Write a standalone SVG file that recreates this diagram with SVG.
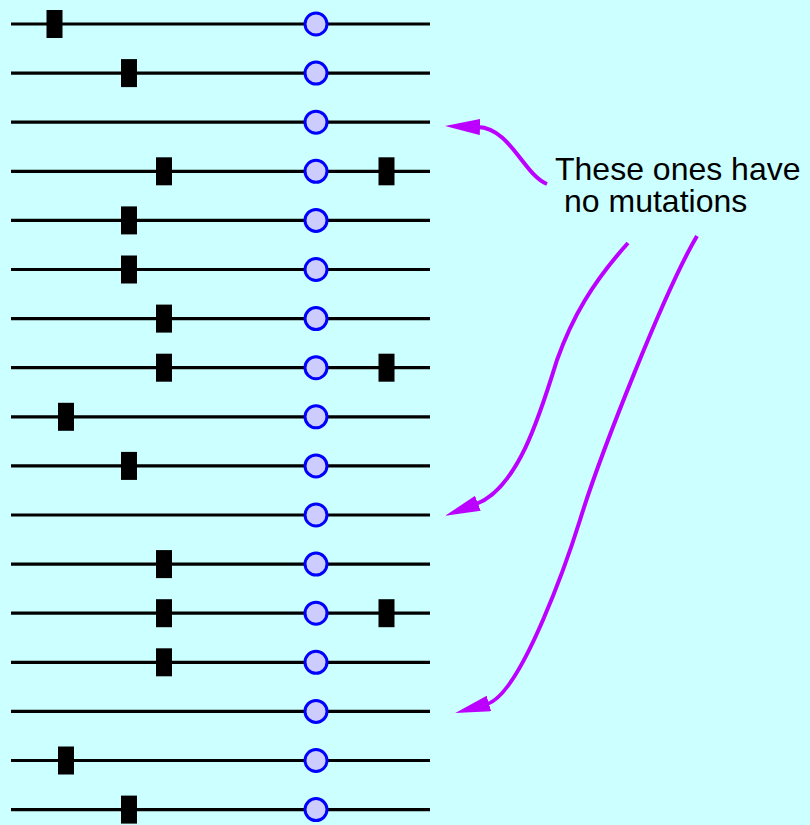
<svg xmlns="http://www.w3.org/2000/svg" width="810" height="825" viewBox="0 0 810 825">
<style>
.seq{stroke:#000;stroke-width:3.2;fill:none}
.mut{fill:#000}
.ctr{fill:#ccccff;stroke:#0000ff;stroke-width:3}
.arr{fill:none;stroke:#bb00ff;stroke-width:4;marker-end:url(#head)}
.lbl{font-family:"Liberation Sans",Arial,sans-serif;font-size:32px;fill:#000}
</style>
<defs>
<marker id="head" markerUnits="userSpaceOnUse" markerWidth="36" markerHeight="16" viewBox="0 0 36 16" refX="2" refY="8" orient="auto">
<path d="M0,0 L35,8 L0,16 z" fill="#bb00ff"/>
</marker>
</defs>
<rect x="0" y="0" width="810" height="825" fill="#ccffff"/>
<g id="row1" transform="translate(0,24)"><line class="seq" x1="11" y1="0" x2="430" y2="0"/><rect class="mut" x="46.5" y="-14" width="16" height="28"/><circle class="ctr" cx="316" cy="0" r="11"/></g>
<g id="row2" transform="translate(0,73.1)"><line class="seq" x1="11" y1="0" x2="430" y2="0"/><rect class="mut" x="121" y="-14" width="16" height="28"/><circle class="ctr" cx="316" cy="0" r="11"/></g>
<g id="row3" transform="translate(0,122.2)"><line class="seq" x1="11" y1="0" x2="430" y2="0"/><circle class="ctr" cx="316" cy="0" r="11"/></g>
<g id="row4" transform="translate(0,171.3)"><line class="seq" x1="11" y1="0" x2="430" y2="0"/><rect class="mut" x="156" y="-14" width="16" height="28"/><rect class="mut" x="378.5" y="-14" width="16" height="28"/><circle class="ctr" cx="316" cy="0" r="11"/></g>
<g id="row5" transform="translate(0,220.4)"><line class="seq" x1="11" y1="0" x2="430" y2="0"/><rect class="mut" x="121" y="-14" width="16" height="28"/><circle class="ctr" cx="316" cy="0" r="11"/></g>
<g id="row6" transform="translate(0,269.5)"><line class="seq" x1="11" y1="0" x2="430" y2="0"/><rect class="mut" x="121" y="-14" width="16" height="28"/><circle class="ctr" cx="316" cy="0" r="11"/></g>
<g id="row7" transform="translate(0,318.6)"><line class="seq" x1="11" y1="0" x2="430" y2="0"/><rect class="mut" x="156" y="-14" width="16" height="28"/><circle class="ctr" cx="316" cy="0" r="11"/></g>
<g id="row8" transform="translate(0,367.7)"><line class="seq" x1="11" y1="0" x2="430" y2="0"/><rect class="mut" x="156" y="-14" width="16" height="28"/><rect class="mut" x="378.5" y="-14" width="16" height="28"/><circle class="ctr" cx="316" cy="0" r="11"/></g>
<g id="row9" transform="translate(0,416.8)"><line class="seq" x1="11" y1="0" x2="430" y2="0"/><rect class="mut" x="58" y="-14" width="16" height="28"/><circle class="ctr" cx="316" cy="0" r="11"/></g>
<g id="row10" transform="translate(0,465.9)"><line class="seq" x1="11" y1="0" x2="430" y2="0"/><rect class="mut" x="121" y="-14" width="16" height="28"/><circle class="ctr" cx="316" cy="0" r="11"/></g>
<g id="row11" transform="translate(0,515)"><line class="seq" x1="11" y1="0" x2="430" y2="0"/><circle class="ctr" cx="316" cy="0" r="11"/></g>
<g id="row12" transform="translate(0,564.1)"><line class="seq" x1="11" y1="0" x2="430" y2="0"/><rect class="mut" x="156" y="-14" width="16" height="28"/><circle class="ctr" cx="316" cy="0" r="11"/></g>
<g id="row13" transform="translate(0,613.2)"><line class="seq" x1="11" y1="0" x2="430" y2="0"/><rect class="mut" x="156" y="-14" width="16" height="28"/><rect class="mut" x="378.5" y="-14" width="16" height="28"/><circle class="ctr" cx="316" cy="0" r="11"/></g>
<g id="row14" transform="translate(0,662.3)"><line class="seq" x1="11" y1="0" x2="430" y2="0"/><rect class="mut" x="156" y="-14" width="16" height="28"/><circle class="ctr" cx="316" cy="0" r="11"/></g>
<g id="row15" transform="translate(0,711.4)"><line class="seq" x1="11" y1="0" x2="430" y2="0"/><circle class="ctr" cx="316" cy="0" r="11"/></g>
<g id="row16" transform="translate(0,760.5)"><line class="seq" x1="11" y1="0" x2="430" y2="0"/><rect class="mut" x="58" y="-14" width="16" height="28"/><circle class="ctr" cx="316" cy="0" r="11"/></g>
<g id="row17" transform="translate(0,809.6)"><line class="seq" x1="11" y1="0" x2="430" y2="0"/><rect class="mut" x="121" y="-14" width="16" height="28"/><circle class="ctr" cx="316" cy="0" r="11"/></g>
<g id="label">
<text class="lbl" x="555" y="180">These ones have</text>
<text class="lbl" x="564" y="212">no mutations</text>
</g>
<g id="connectors">
<path class="arr" d="M547,184 C524,175 510,128 478,127"/>
<path class="arr" d="M628,243 C592,283 572,318 557,360 C540,415 518,488 476,504"/>
<path class="arr" d="M697,236 C665,290 600,455 580,520 C570,552 522,694 487,704"/>
</g>
</svg>
